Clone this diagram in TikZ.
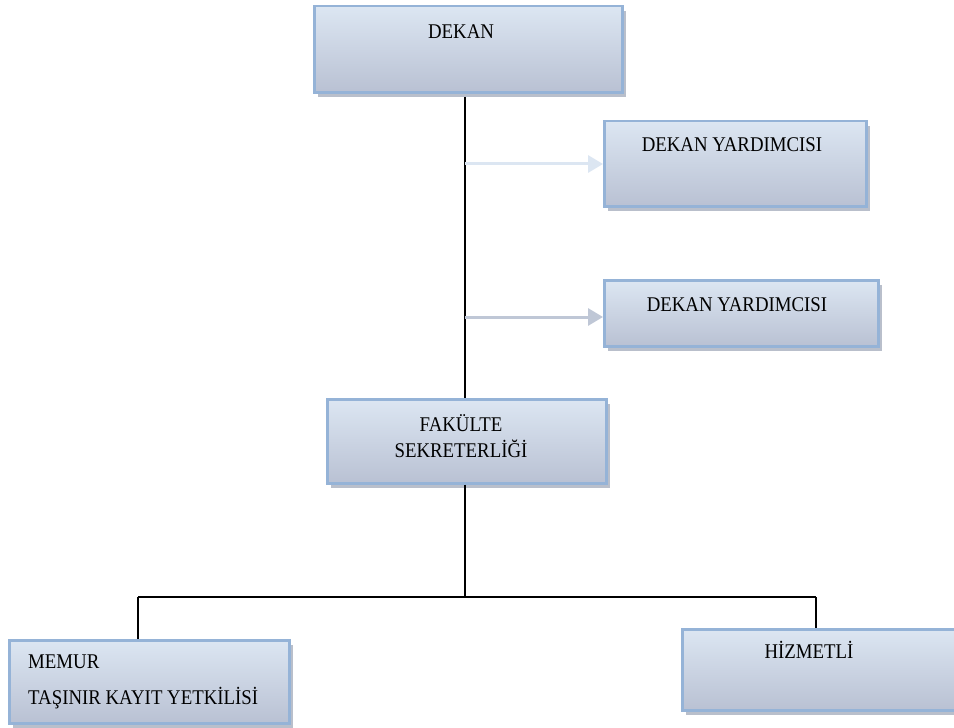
\documentclass[tikz,border=0pt]{standalone}
\usepackage{fontspec}
\setmainfont{Liberation Serif}[FakeStretch=0.9]
\usetikzlibrary{arrows.meta,shadows}
\definecolor{boxtop}{HTML}{DCE6F2}
\definecolor{boxbot}{HTML}{B9C1D3}
\definecolor{boxline}{HTML}{95B3D7}
\definecolor{shadowc}{HTML}{B9BFCB}
\definecolor{arrowa}{HTML}{DCE6F2}
\definecolor{arrowb}{HTML}{BFC7D6}
\tikzset{
  orgbox/.style={rectangle, anchor=north west, inner sep=0pt,
    top color=boxtop, bottom color=boxbot, draw=boxline, line width=2.5bp,
    drop shadow={shadow xshift=3.5bp, shadow yshift=-4.5bp, fill=shadowc, opacity=1}},
  lbl/.style={font=\fontsize{21}{26}\selectfont, inner sep=0pt, text=black},
  conn/.style={line width=1.6bp, black},
  sidearrow/.style={line width=3bp, -{Triangle[length=15bp,width=17bp]}},
}
\begin{document}
\begin{tikzpicture}[x=1bp,y=-1bp]
\clip (0,0) rectangle (954,728);
\fill[white] (0,0) rectangle (954,728);
% boxes
\node[orgbox, minimum width=308bp, minimum height=86bp] (dekan) at (313,5) {};
\node[orgbox, minimum width=262bp, minimum height=85bp] (dy1) at (603,120) {};
\node[orgbox, minimum width=274bp, minimum height=66bp] (dy2) at (603,279) {};
\node[orgbox, minimum width=279bp, minimum height=84bp] (fak) at (326,398) {};
\node[orgbox, minimum width=280bp, minimum height=83bp] (memur) at (8,639) {};
\node[orgbox, minimum width=300bp, minimum height=81bp] (hiz) at (681,628) {};
% labels
\node[lbl] (dekant) at (461,32) {DEKAN};
\node[lbl] (dy1t) at (732,145) {DEKAN YARDIMCISI};
\node[lbl] (dy2t) at (737,305) {DEKAN YARDIMCISI};
\node[lbl, align=center] (fakt) at (461,436) {FAKÜLTE\\SEKRETERLİĞİ};
\node[lbl, anchor=west] (memur1) at (28,662) {MEMUR};
\node[lbl, anchor=west] (memur2) at (28,698) {TAŞINIR KAYIT YETKİLİSİ};
\node[lbl] (hizt) at (809,650) {HİZMETLİ};
% connectors
\coordinate (top) at (465,97);
\coordinate (a1) at (465,164);
\coordinate (a2) at (465,317);
\coordinate (bl) at (138,597);
\coordinate (br) at (816,597);
\coordinate (bm) at (465,597);
\draw[conn] (top) -- (top |- fak.north);
\draw[conn] (fak.south -| top) -- (bm);
\draw[conn] (bl) -- (br);
\draw[conn] (bl) -- (bl |- memur.north);
\draw[conn] (br) -- (br |- hiz.north);
\draw[sidearrow, arrowa] (a1) -- (a1 -| dy1.west);
\draw[sidearrow, arrowb] (a2) -- (a2 -| dy2.west);
\end{tikzpicture}
\end{document}
